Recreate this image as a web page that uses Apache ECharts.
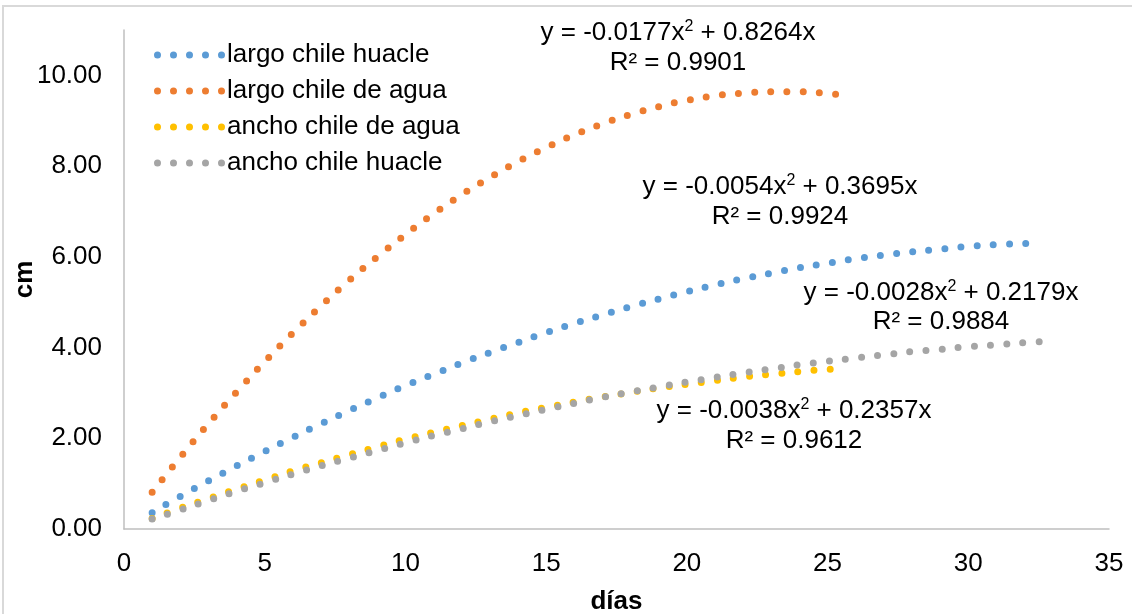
<!DOCTYPE html>
<html>
<head>
<meta charset="utf-8">
<script src="https://cdn.jsdelivr.net/npm/echarts@6/dist/echarts.min.js"></script>
<style>
  html, body { margin: 0; padding: 0; background: #ffffff; }
  #chart { width: 1132px; height: 614px; }
</style>
</head>
<body>
<div id="chart"></div>
<script>
// Series names (legend order)
const seriesNames = ['largo chile huacle', 'largo chile de agua', 'ancho chile de agua', 'ancho chile huacle'];
const seriesColors = ['#5B9BD5', '#ED7D31', '#FFC000', '#A5A5A5'];

// Day positions for each group of curves
const diasHuacle = [1, 2, 3, 4, 5, 6, 7, 8, 9, 10, 11, 12, 13, 14, 15, 16, 17, 18, 19, 20,
  21, 22, 23, 24, 25, 26, 27, 28, 29, 30, 31, 32, 32.6];
const diasAgua = [1, 2, 3, 4, 5, 6, 7, 8, 9, 10, 11, 12, 13, 14, 15, 16, 17, 18, 19, 20,
  21, 22, 23, 24, 25, 25.6];

// Fitted growth (cm) per day
const largoHuacle = [0.36, 0.72, 1.06, 1.39, 1.71, 2.02, 2.32, 2.61, 2.89, 3.16, 3.41, 3.66,
  3.89, 4.11, 4.33, 4.53, 4.72, 4.90, 5.07, 5.23, 5.38, 5.52, 5.64, 5.76, 5.86, 5.96, 6.04,
  6.11, 6.17, 6.23, 6.27, 6.29, 6.31];
const largoAgua = [0.81, 1.58, 2.32, 3.02, 3.69, 4.32, 4.92, 5.48, 6.00, 6.49, 6.95, 7.37,
  7.75, 8.10, 8.41, 8.69, 8.93, 9.14, 9.31, 9.45, 9.55, 9.61, 9.64, 9.64, 9.60, 9.56];
const anchoAgua = [0.23, 0.46, 0.67, 0.88, 1.08, 1.28, 1.46, 1.64, 1.81, 1.98, 2.13, 2.28,
  2.42, 2.56, 2.68, 2.80, 2.91, 3.01, 3.11, 3.19, 3.27, 3.35, 3.41, 3.47, 3.52, 3.54];
const anchoHuacle = [0.22, 0.42, 0.63, 0.83, 1.02, 1.21, 1.39, 1.56, 1.73, 1.90, 2.06, 2.21,
  2.36, 2.50, 2.64, 2.77, 2.90, 3.02, 3.13, 3.24, 3.34, 3.44, 3.53, 3.62, 3.70, 3.77, 3.84,
  3.91, 3.96, 4.02, 4.06, 4.11, 4.13];

// Trendline equations per series (y = a·x² + b·x) and R²
const coefA = ['-0.0054', '-0.0177', '-0.0038', '-0.0028'];
const coefB = ['0.3695', '0.8264', '0.2357', '0.2179'];
const r2 = ['0.9924', '0.9901', '0.9612', '0.9884'];

// Axis ticks
const xTicks = [0, 5, 10, 15, 20, 25, 30, 35];
const yTicks = [0, 2, 4, 6, 8, 10];

const FONT = '"Liberation Sans", Arial, sans-serif';
const FS = 26;

const xs = [diasHuacle, diasAgua, diasAgua, diasHuacle];
const ys = [largoHuacle, largoAgua, anchoAgua, anchoHuacle];

const series = seriesNames.map((name, i) => ({
  name,
  type: 'line',
  data: xs[i].map((d, k) => [d, ys[i][k]]),
  showSymbol: false,
  symbol: 'none',
  smooth: true,
  color: seriesColors[i],
  lineStyle: { color: seriesColors[i], width: 7, type: [0, 16.2], cap: 'round' },
  z: 2 + i
}));

// Equation label placement per series (pixel centres): [x, line1 y, line2 y]
const eqPlace = [[780, 187, 217], [678, 33, 63], [794, 411, 441], [941, 293, 322]];

const graphics = [];
seriesNames.forEach((n, s) => {
  const p = eqPlace[s];
  graphics.push({
    type: 'text', x: p[0], y: p[1], z: 10,
    style: {
      text: '{a|y = ' + coefA[s] + 'x}{s|2}{a| + ' + coefB[s] + 'x}',
      rich: {
        a: { fontFamily: FONT, fontSize: FS, fill: '#000', lineHeight: 28 },
        s: { fontFamily: FONT, fontSize: 16, fill: '#000', lineHeight: 28, verticalAlign: 'top' }
      },
      align: 'center', verticalAlign: 'middle'
    }
  });
  graphics.push({
    type: 'text', x: p[0], y: p[2], z: 10,
    style: {
      text: 'R² = ' + r2[s],
      fontFamily: FONT, fontSize: FS, fill: '#000',
      align: 'center', verticalAlign: 'middle'
    }
  });
});
// Chart frame
graphics.push({
  type: 'rect', z: 0, silent: true,
  shape: { x: 3, y: 6, width: 1140, height: 620 },
  style: { fill: 'none', stroke: '#D9D9D9', lineWidth: 2 }
});

const chart = echarts.init(document.getElementById('chart'), null, { renderer: 'canvas' });
chart.setOption({
  animation: false,
  backgroundColor: '#ffffff',
  textStyle: { fontFamily: FONT },
  grid: { left: 124, right: 23, top: 30, bottom: 85, containLabel: false, outerBoundsMode: 'none' },
  legend: {
    orient: 'vertical',
    left: 149,
    top: 37,
    itemGap: 10,
    itemWidth: 71,
    itemHeight: 7,
    icon: 'path://M0,3.5a3.5,3.5 0 1,0 7,0a3.5,3.5 0 1,0 -7,0M16,3.5a3.5,3.5 0 1,0 7,0a3.5,3.5 0 1,0 -7,0M32,3.5a3.5,3.5 0 1,0 7,0a3.5,3.5 0 1,0 -7,0M48,3.5a3.5,3.5 0 1,0 7,0a3.5,3.5 0 1,0 -7,0M64,3.5a3.5,3.5 0 1,0 7,0a3.5,3.5 0 1,0 -7,0',
    itemStyle: { borderWidth: 0 },
    textStyle: { fontFamily: FONT, fontSize: FS, color: '#000', lineHeight: 25, padding: [0, 0, 0, -3] },
    data: seriesNames
  },
  xAxis: {
    type: 'value',
    min: xTicks[0],
    max: xTicks[xTicks.length - 1],
    interval: xTicks[1] - xTicks[0],
    name: 'días',
    nameLocation: 'middle',
    nameGap: 60,
    nameTextStyle: { fontFamily: FONT, fontSize: FS, fontWeight: 'bold', color: '#000' },
    axisLine: { show: true, lineStyle: { color: '#BFBFBF', width: 1.5 } },
    axisTick: { show: false },
    splitLine: { show: false },
    axisLabel: { fontFamily: FONT, fontSize: FS, color: '#000', margin: 22 }
  },
  yAxis: {
    type: 'value',
    min: yTicks[0],
    max: 11,
    interval: yTicks[1] - yTicks[0],
    name: 'cm',
    nameLocation: 'middle',
    nameGap: 86,
    nameMoveOverlap: false,
    nameTextStyle: { fontFamily: FONT, fontSize: FS, fontWeight: 'bold', color: '#000' },
    axisLine: { show: true, lineStyle: { color: '#BFBFBF', width: 1.5 } },
    axisTick: { show: false },
    splitLine: { show: false },
    axisLabel: {
      fontFamily: FONT, fontSize: FS, color: '#000', margin: 22,
      showMaxLabel: false,
      formatter: v => (yTicks.indexOf(v) >= 0 ? v.toFixed(2) : '')
    }
  },
  graphic: graphics,
  series
});
</script>
</body>
</html>
